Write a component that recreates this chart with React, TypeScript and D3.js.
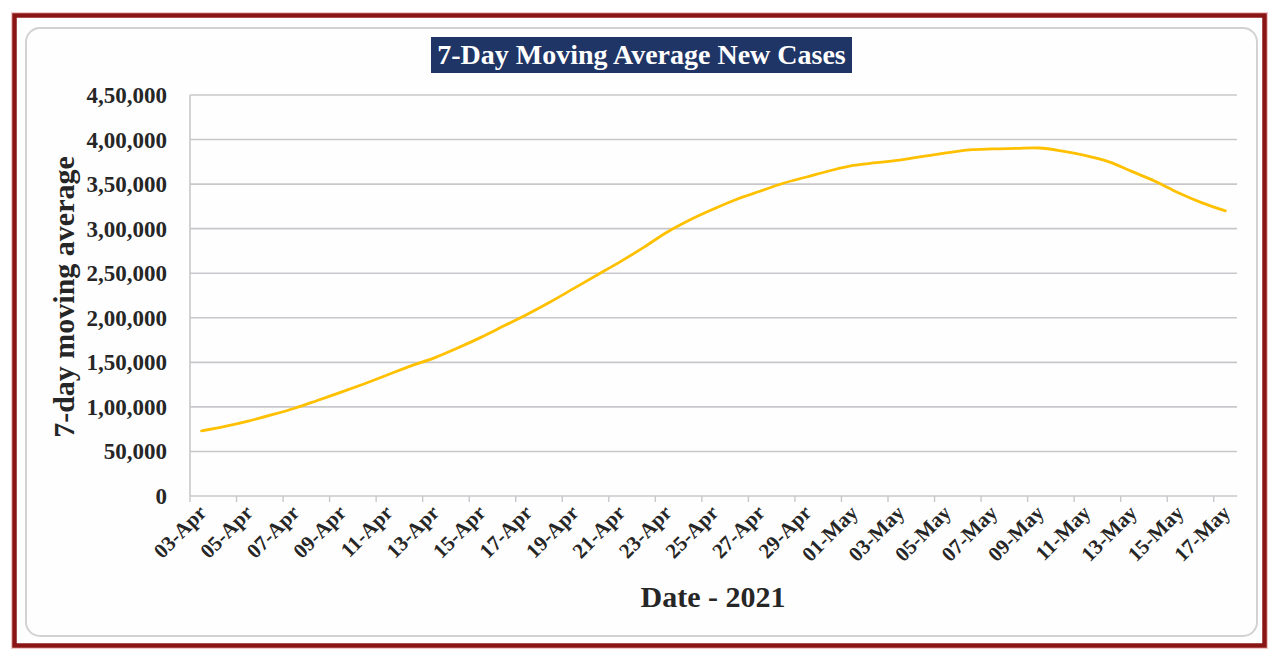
import React from "react";
import * as d3 from "d3";

const dates = [
  "03-Apr","04-Apr","05-Apr","06-Apr","07-Apr","08-Apr","09-Apr","10-Apr","11-Apr","12-Apr",
  "13-Apr","14-Apr","15-Apr","16-Apr","17-Apr","18-Apr","19-Apr","20-Apr","21-Apr","22-Apr",
  "23-Apr","24-Apr","25-Apr","26-Apr","27-Apr","28-Apr","29-Apr","30-Apr",
  "01-May","02-May","03-May","04-May","05-May","06-May","07-May","08-May","09-May","10-May",
  "11-May","12-May","13-May","14-May","15-May","16-May","17-May",
];

const movingAverage = [
  73000, 78000, 84000, 91000, 98500, 107500, 116500, 126000, 136000, 146000,
  155000, 166000, 178000, 191000, 204000, 218000, 233000, 248000, 263000, 279000,
  296000, 310000, 322000, 333000, 342000, 351000, 358000, 365000,
  371000, 374000, 377000, 381000, 385000, 388500, 389500, 390000, 390500, 387000,
  382000, 375000, 364000, 353000, 340000, 329000, 320000,
];

const yTicks = [0, 50000, 100000, 150000, 200000, 250000, 300000, 350000, 400000, 450000];
const yTickLabels = ["0", "50,000", "1,00,000", "1,50,000", "2,00,000", "2,50,000", "3,00,000", "3,50,000", "4,00,000", "4,50,000"];

const title = "7-Day Moving Average New Cases";
const yTitle = "7-day moving average";
const xTitle = "Date - 2021";

export default function App() {
  const W = 1280, H = 654;
  const left = 190, right = 1237, top = 95, bottom = 496;
  const x = d3.scaleBand<string>().domain(dates).range([left, right]).paddingInner(0).paddingOuter(0);
  const y = d3.scaleLinear().domain([0, 450000]).range([bottom, top]);
  const bw = x.bandwidth();
  const line = d3
    .line<number>()
    .x((_, i) => (x(dates[i]) as number) + bw / 2)
    .y((d) => y(d))
    .curve(d3.curveCatmullRom.alpha(0.5));
  const font = "'Liberation Serif', 'DejaVu Serif', serif";
  const tickIdx = dates.map((_, i) => i).filter((i) => i % 2 === 0);

  return (
    <svg width={W} height={H} style={{ position: "absolute", left: 0, top: 0 }} fontFamily={font}>
      <rect x={0} y={0} width={W} height={H} fill="#ffffff" />
      <rect x={14.5} y={15.5} width={1250} height={630} fill="#fefefe" stroke="#f0c8c8" strokeWidth={7} />
      <rect x={14.5} y={15.5} width={1250} height={630} fill="#fefefe" stroke="#8a1515" strokeWidth={4.5} />
      <rect x={26} y={28} width={1231} height={608} rx={14} ry={14} fill="#fefefe" stroke="#d2d2d4" strokeWidth={2} />

      <rect x={431} y={37} width={421} height={36} fill="#1f3566" />
      <text x={641.5} y={64} textAnchor="middle" fill="#ffffff" fontWeight="bold" fontSize={28}>
        {title}
      </text>

      {yTicks.map((t, i) => (
        <g key={t}>
          {t > 0 && (
            <line x1={left} x2={right} y1={y(t)} y2={y(t)} stroke="#c8c8cc" strokeWidth={1.6} />
          )}
          <text x={167} y={y(t)} dy="0.35em" textAnchor="end" fontWeight="bold" fontSize={23} fill="#262626">
            {yTickLabels[i]}
          </text>
        </g>
      ))}

      <line x1={left} x2={left} y1={top} y2={bottom} stroke="#c8c8cc" strokeWidth={1.6} />
      <line x1={left} x2={right} y1={bottom} y2={bottom} stroke="#c8c8cc" strokeWidth={1.6} />
      {tickIdx.map((i) => (
        <line key={"t" + i} x1={x(dates[i]) as number} x2={x(dates[i]) as number} y1={bottom} y2={bottom + 6} stroke="#c8c8cc" strokeWidth={1.4} />
      ))}
      {tickIdx.map((i) => {
        const cx = (x(dates[i]) as number) + bw / 2 + 6;
        const cy = bottom + 18;
        return (
          <text key={"l" + i} x={0} y={0} transform={`translate(${cx},${cy}) rotate(-45)`} textAnchor="end" fontWeight="bold" fontSize={21} fill="#262626">
            {dates[i]}
          </text>
        );
      })}

      <path d={line(movingAverage) || ""} fill="none" stroke="#ffc000" strokeWidth={2.8} strokeLinejoin="round" strokeLinecap="round" />

      <text transform={`translate(74,297) rotate(-90)`} textAnchor="middle" fontWeight="bold" fontSize={30} fill="#262626">
        {yTitle}
      </text>
      <text x={713} y={607} textAnchor="middle" fontWeight="bold" fontSize={30} fill="#262626">
        {xTitle}
      </text>
    </svg>
  );
}
